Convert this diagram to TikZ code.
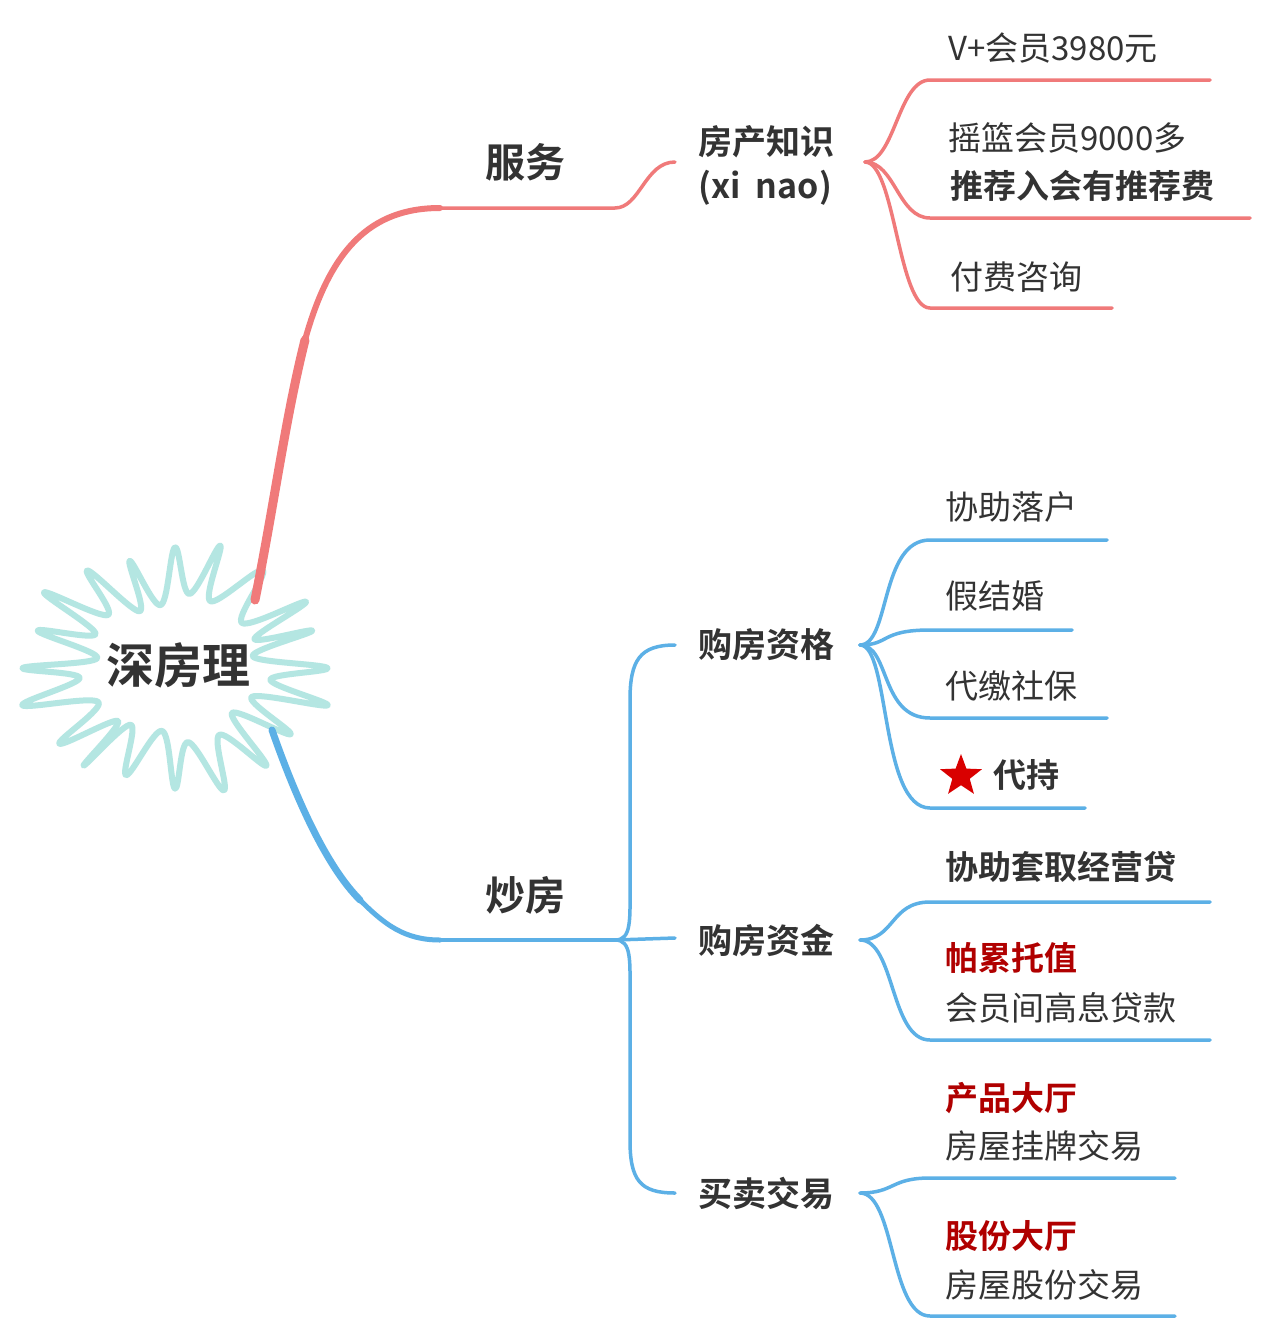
\documentclass[tikz,border=0pt]{standalone}
\usepackage{fontspec}
\setmainfont{Noto Sans CJK SC}[BoldFont={Noto Sans CJK SC Bold}]
\usetikzlibrary{shapes.geometric}
\definecolor{rd}{HTML}{F07A7A}
\definecolor{bl}{HTML}{5CB0E6}
\definecolor{tx}{HTML}{333333}
\definecolor{dr}{HTML}{B00000}
\definecolor{burst}{HTML}{B4E6E2}
\tikzset{
  leaf/.style={anchor=west,text=tx,font=\fontsize{33}{36}\selectfont,inner sep=0pt},
  leafb/.style={leaf,font=\fontsize{33}{36}\selectfont\bfseries},
  leafr/.style={leafb,text=dr},
  mid/.style={text=tx,font=\fontsize{34}{44}\selectfont\bfseries,align=left,inner sep=0pt},
  top/.style={text=tx,font=\fontsize{40}{44}\selectfont\bfseries,inner sep=0pt},
  rline/.style={rd,line width=3.5pt,line cap=round},
  bline/.style={bl,line width=3.5pt,line cap=round}
}
\begin{document}
\begin{tikzpicture}[x=1pt,y=-1pt]
\useasboundingbox (0,0) rectangle (1270,1336);
\fill[white] (0,0) rectangle (1270,1336);
% burst
\draw[burst,line width=6pt,line join=round] plot[smooth cycle,tension=0.6,domain=0:351,samples=40]
 ({175+(120*(1+0.27*cos(20*\x))+10*sin(7*\x))*cos(\x)},{668+(95*(1+0.27*cos(20*\x))+8*cos(5*\x))*sin(\x)});
\node[font=\fontsize{48}{52}\selectfont\bfseries,text=tx] (root) at (178,665) {深房理};
\coordinate (rs) at (255,600);
\coordinate (bs) at (272,730);
% level 1
\node[top] (fw) at (525,162) {服务};
\node[top] (cf) at (525,895) {炒房};
\coordinate (fwj) at (615,208);
\coordinate (cfj) at (615,940);
\draw[rd,line width=9pt,line cap=round] (rs) .. controls (275,500) and (285,420) .. (305,340);
\draw[rd,line width=6pt,line cap=round] (305,340) .. controls (330,250) and (370,208) .. (440,208);
\draw[rline] (440,208) -- (fwj) .. controls (640,208) and (645,162) .. (675,162) coordinate (fwe);
\draw[bl,line width=7pt,line cap=round] (bs) .. controls (300,810) and (330,870) .. (360,900);
\draw[bl,line width=5pt,line cap=round] (360,900) .. controls (385,925) and (405,940) .. (440,940);
\draw[bline] (440,940) -- (cfj);
% level 2
\node[mid,anchor=west] (fc) at (698,165) {房产知识\\(xi\ \ nao)};
\node[mid,anchor=west] (zg) at (698,645) {购房资格};
\node[mid,anchor=west] (zj) at (698,940) {购房资金};
\node[mid,anchor=west] (jy) at (698,1193) {买卖交易};
\draw[bline] (cfj) .. controls (632,940) and (630,920) .. (630,880) -- (630,700) .. controls (630,660) and (640,645) .. (675,645);
\draw[bline] (cfj) -- (675,938);
\draw[bline] (cfj) .. controls (632,940) and (630,960) .. (630,1000) -- (630,1140) .. controls (630,1180) and (640,1193) .. (675,1193);
% leaves service
\node[leaf] (l1) at (948,48) {V+会员3980元};
\node[leaf] (l2) at (948,138) {摇篮会员9000多};
\node[leafb] (l3) at (950,186) {推荐入会有推荐费};
\node[leaf] (l4) at (950,277) {付费咨询};
\foreach \y/\e in {80/1210,218/1250,308/1112}
  \draw[rline] (865,162) .. controls (895,162) and (898,\y) .. (930,\y) -- (\e,\y);
% leaves 购房资格
\node[leaf] (a1) at (945,507) {协助落户};
\node[leaf] (a2) at (945,596) {假结婚};
\node[leaf] (a3) at (945,686) {代缴社保};
\node[star,star points=5,star point ratio=2.4,fill=red!85!black,minimum size=44pt,inner sep=0pt] (st) at (961,776) {};
\node[leafb] (a4) at (993,775) {代持};
\foreach \y/\e in {540/1107,630/1072,718/1107,808/1085}
  \draw[bline] (860,645) .. controls (890,645) and (880,\y) .. (930,\y) -- (\e,\y);
% leaves 购房资金
\node[leafb] (b1) at (945,867) {协助套取经营贷};
\node[leafr] (b2) at (945,958) {帕累托值};
\node[leaf] (b3) at (945,1008) {会员间高息贷款};
\foreach \y/\e in {902/1210,1040/1210}
  \draw[bline] (860,940) .. controls (895,940) and (890,\y) .. (930,\y) -- (\e,\y);
% leaves 买卖交易
\node[leafr] (c1) at (945,1098) {产品大厅};
\node[leaf] (c2) at (945,1146) {房屋挂牌交易};
\node[leafr] (c3) at (945,1236) {股份大厅};
\node[leaf] (c4) at (945,1285) {房屋股份交易};
\foreach \y/\e in {1178/1175,1316/1175}
  \draw[bline] (860,1193) .. controls (895,1193) and (890,\y) .. (930,\y) -- (\e,\y);
\end{tikzpicture}
\end{document}
